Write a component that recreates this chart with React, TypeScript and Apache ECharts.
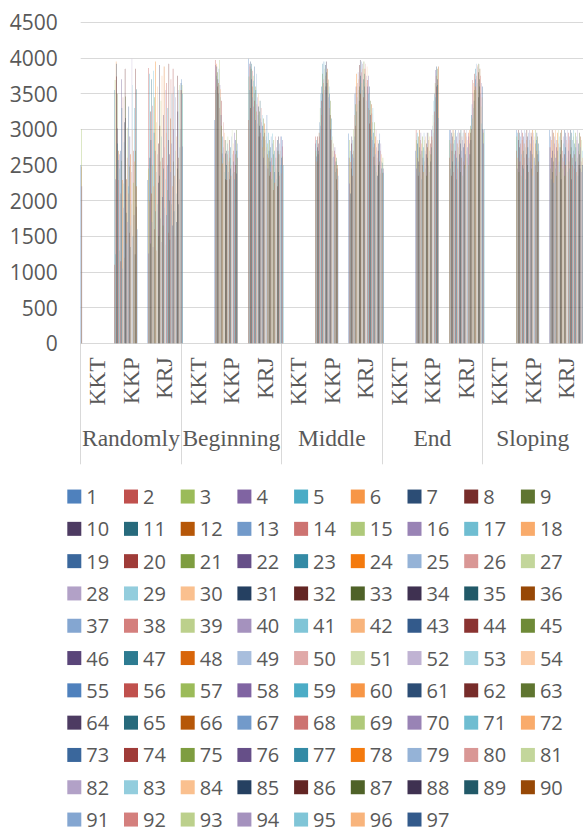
import React, { useEffect, useRef } from 'react';
import * as echarts from 'echarts';

const groups = ['Randomly', 'Beginning', 'Middle', 'End', 'Sloping'];
const subCategories = ['KKT', 'KKP', 'KRJ'];
const categories = groups.flatMap(() => subCategories);
const yMin = 0;
const yMax = 4500;
const yStep = 500;

const randomlyKKT = [2500, 2480, 3000, 2200];
const randomlyKKP = [3550, 1100, 3690, 2300, 1250, 3950, 3920, 3740, 3500, 3010, 2800,
  2700, 2570, 2290, 1300, 2650, 2450, 2100, 2700, 1150, 2560,
  3700, 3300, 2290, 1050, 3450, 2240, 1900, 2820, 1200, 3100,
  3850, 3460, 3160, 1830, 2300, 1400, 2600, 3020, 1700, 2200,
  2100, 3320, 1550, 2480, 2900, 1350, 2650, 1650, 2400, 1950,
  3990, 3620, 2990, 1500, 2700, 2250, 1800, 3300, 2550, 1250,
  3850, 2700, 1915, 3560, 2200, 1600];
const randomlyKRJ = [2290, 3860, 2450, 1260, 3780, 1990, 2600, 3250, 1400, 2850,
  3700, 2100, 1700, 3330, 2500, 1350, 3820, 2200, 2950, 1600,
  3450, 2700, 1850, 3950, 2400, 1300, 3100, 2650, 1950, 3600,
  2250, 2800, 1500, 3900, 2350, 3050, 1750, 2550, 3400, 1420,
  2900, 3750, 2050, 2600, 1650, 3200, 2450, 3880, 1900, 2750,
  1380, 3550, 2300, 2950, 1800, 3650, 2150, 2500, 3300, 1550,
  2850, 3920, 2000, 2650, 1450, 3150, 2400, 3700, 1950, 2800,
  3500, 2200, 1650, 3850, 2550, 3000, 1850, 2350, 3600, 1500,
  2700, 3450, 2100, 2900, 1700, 3750, 2450, 3250, 1950, 2600,
  3550, 2300, 3620, 2750, 3000, 3550, 3650];

const beginningKKT = [3700, 3550, 3620, 2760, 3500];
const beginningKKP = [3130, 3970, 3550, 3900, 3750, 3920, 3880, 3600, 3800, 3700,
  3500, 3650, 3850, 3300, 3970, 3620, 3450, 3560, 3200, 3400,
  3050, 2660, 2900, 2520, 2750, 3100, 2600, 2850, 2400, 2950,
  2660, 2300, 2850, 2700, 2500, 2290, 2800, 2650, 2900, 2400,
  2700, 2550, 2300, 2850, 2600, 2450, 2750, 2350, 2900, 2500,
  2990, 2650, 2380, 2800, 2550, 2700, 2400, 2950, 2300, 2650,
  2850, 2500, 2990, 2380, 2700, 2600, 2800];
const beginningKRJ = [3990, 3130, 3740, 3920, 3550, 3880, 3950, 3300, 3850, 3700,
  3920, 3600, 3450, 3820, 3750, 3320, 3680, 3500, 3880, 3400,
  3600, 3130, 3550, 3250, 3780, 3350, 3080, 3450, 3200, 3500,
  3320, 2900, 3250, 3050, 3400, 2950, 3150, 3300, 2850, 3100,
  3200, 2750, 3050, 2900, 3150, 2600, 2950, 3080, 2700, 2850,
  3000, 2500, 2900, 2750, 3200, 2650, 2800, 2450, 2950, 2600,
  2700, 2350, 2850, 2550, 2750, 2400, 2900, 2600, 2300, 2800,
  2940, 2500, 2650, 2150, 2850, 2400, 2700, 2250, 2600, 2900,
  2450, 2750, 2300, 2600, 2850, 2200, 2700, 2900, 2400, 2650,
  2800, 2350, 2700, 2900, 2500, 2380, 2600];

const middleKKT = [2900, 2760, 2620, 2850, 2500];
const middleKKP = [2800, 2900, 2700, 2620, 2850, 2550, 2750, 2900, 2650, 2800,
  2700, 2950, 3100, 2900, 3300, 3050, 3500, 3200, 3600, 3400,
  3780, 3500, 3920, 3650, 3950, 3700, 3850, 3550, 3950, 3750,
  3900, 3600, 3800, 3950, 3650, 3850, 3550, 3700, 3690, 3450,
  3600, 3300, 3500, 3200, 3400, 3000, 3150, 2850, 2990, 2700,
  2900, 2600, 2800, 2800, 2616, 2700, 2500, 2750, 2400, 2650,
  2550, 2300, 2600, 2450, 2150, 2500, 2350];
const middleKRJ = [2940, 2600, 2850, 2240, 2700, 2540, 2100, 2800, 2450, 2900,
  2650, 2350, 2850, 2700, 3000, 2600, 2900, 3200, 3500, 3050,
  3350, 3600, 3250, 3780, 3450, 3650, 3350, 3800, 3550, 3700,
  3400, 3900, 3600, 3970, 3750, 3500, 3950, 3800, 3650, 3920,
  3550, 3850, 3700, 3450, 3950, 3600, 3780, 3850, 3500, 3920,
  3650, 3750, 3400, 3880, 3600, 3690, 3300, 3750, 3500, 3270,
  3600, 3080, 3400, 3200, 3000, 3350, 2900, 3220, 3100, 2850,
  3300, 2750, 2950, 2616, 3100, 2800, 2500, 2900, 2650, 2990,
  2400, 2750, 2600, 2850, 2350, 2700, 2500, 2800, 2850, 2550,
  2940, 2700, 2380, 2800, 2550, 2650, 2450];

const endKKT = [2530, 2390, 2600, 2450, 2390];
const endKKP = [2700, 2990, 2850, 2450, 2950, 2600, 2800, 2350, 2900, 2550,
  2750, 2990, 2400, 2850, 2650, 2950, 2300, 2800, 2700, 2500,
  2900, 2600, 2750, 2400, 2950, 2550, 2850, 2700, 2450, 2900,
  2650, 2800, 2350, 2950, 2600, 2750, 2500, 2850, 2950, 2400,
  2700, 2900, 2550, 2800, 2650, 2990, 2750, 2900, 3050, 2850,
  3200, 2950, 3400, 3100, 3500, 3250, 3650, 3830, 3450, 3750,
  3880, 3600, 3850, 3700, 3620, 3880, 3160];
const endKRJ = [2990, 2600, 2850, 2990, 2450, 2800, 2950, 2350, 2700, 2900,
  2550, 2990, 2800, 2400, 2950, 2650, 2850, 2500, 2990, 2700,
  2300, 2900, 2600, 2800, 2950, 2450, 2750, 2990, 2550, 2850,
  2650, 2950, 2400, 2800, 2990, 2600, 2700, 2900, 2350, 2850,
  2950, 2550, 2750, 2990, 2500, 2800, 2650, 2950, 2450, 2900,
  2700, 2990, 2600, 2850, 2750, 2950, 2500, 2900, 2800, 2990,
  2650, 2950, 3050, 2850, 3200, 3000, 3350, 3690, 3150, 3500,
  3300, 3650, 3400, 3780, 3550, 3700, 3850, 3600, 3920, 3750,
  3550, 3880, 3650, 3900, 3450, 3800, 3920, 3700, 3600, 3850,
  3500, 3750, 3320, 3650, 3080, 3450, 3600];

const slopingKKT = [3000, 2990, 2950, 2800, 3000];
const slopingKKP = [2990, 2700, 2900, 2450, 2950, 2600, 2850, 2990, 2400, 2750,
  2950, 2550, 2900, 2800, 2350, 2990, 2650, 2850, 2500, 2950,
  2700, 2900, 2450, 2800, 2990, 2600, 2750, 2950, 2300, 2850,
  2650, 2990, 2500, 2900, 2750, 2400, 2950, 2600, 2850, 2990,
  2550, 2800, 2700, 2950, 2450, 2900, 2650, 2990, 2350, 2850,
  2750, 2950, 2550, 2900, 2600, 2800, 2990, 2500, 2850, 2700,
  2950, 2400, 2900, 2650, 2800, 2550, 2700];
const slopingKRJ = [2990, 2750, 2450, 2900, 2300, 2850, 2600, 2990, 2400, 2700,
  2550, 2950, 2250, 2800, 2650, 2900, 2450, 2990, 2600, 2750,
  2350, 2850, 2700, 2950, 2500, 2800, 2990, 2550, 2900, 2400,
  2750, 2650, 2950, 2300, 2850, 2990, 2600, 2700, 2450, 2900,
  2800, 2550, 2990, 2650, 2350, 2950, 2750, 2500, 2900, 2850,
  2600, 2990, 2400, 2800, 2700, 2950, 2550, 2900, 2450, 2850,
  2990, 2650, 2750, 2300, 2950, 2600, 2850, 2500, 2900, 2700,
  2990, 2450, 2800, 2650, 2950, 2550, 2750, 2400, 2900, 2850,
  2600, 2990, 2350, 2700, 2800, 2500, 2950, 2650, 2450, 2900,
  2750, 2550, 2850, 2400, 2700, 2600, 2500];

const categoryValues = [
  randomlyKKT, randomlyKKP, randomlyKRJ,
  beginningKKT, beginningKKP, beginningKRJ,
  middleKKT, middleKKP, middleKRJ,
  endKKT, endKKP, endKRJ,
  slopingKKT, slopingKKP, slopingKRJ,
];

const seriesNames = Array.from({ length: 97 }, (_, i) => String(i + 1));

const palette = [
  '#4F81BD', '#C0504D', '#9BBB59', '#8064A2', '#4BACC6', '#F79646',
  '#2C4D75', '#772C2A', '#5F7530', '#4D3B62', '#276A7C', '#B65708',
  '#729ACA', '#CD7371', '#AFC97A', '#9983B5', '#6FBDD1', '#F9AB6B',
  '#3A679C', '#9F3B38', '#7E9D40', '#664F88', '#338AA5', '#F47A0E',
  '#95B3D7', '#D99795', '#C3D69B', '#B2A1C7', '#93CDDD', '#FAC08F',
  '#254061', '#632523', '#4F6228', '#3F3151', '#215968', '#974806',
  '#84A6D1', '#D47F7D', '#BCD08C', '#A592BE', '#80C5D7', '#F8B47C',
  '#335A8B', '#8A3331', '#6E8A37', '#5A4579', '#2D7B91', '#D8650A',
  '#A8BEDD', '#E0A9A8', '#CFDFAF', '#C0B3D3', '#A7D6E3', '#FBCBA5',
];

const textColor = '#595959';
const gridColor = '#D9D9D9';
const sansFont = '"Open Sans", "Noto Sans", sans-serif';
const serifFont = '"Liberation Serif", "DejaVu Serif", serif';

export default function App() {
  const ref = useRef<HTMLDivElement>(null);

  useEffect(() => {
    document.body.style.margin = '0';
    if (!ref.current) return;
    const chart = echarts.init(ref.current, null, { renderer: 'svg' });
    chart.setOption({
      animation: false,
      backgroundColor: '#FFFFFF',
      grid: { left: 80.7, top: 22.3, width: 502.5, height: 321, containLabel: false },
      legend: {
        type: 'plain',
        orient: 'horizontal',
        left: 67.3,
        top: 485.4,
        width: 505,
        padding: 0,
        itemGap: 10,
        itemWidth: 14,
        itemHeight: 14,
        icon: 'rect',
        data: seriesNames,
        textStyle: {
          color: textColor,
          fontFamily: sansFont,
          fontSize: 20,
          width: 27.7,
          lineHeight: 22.3,
        },
      },
      xAxis: [
        {
          type: 'category',
          data: categories,
          position: 'bottom',
          axisLine: { show: true, lineStyle: { color: gridColor, width: 1 } },
          axisTick: { show: false },
          axisLabel: {
            interval: 0,
            rotate: 90,
            margin: 14,
            color: textColor,
            fontFamily: serifFont,
            fontSize: 23.5,
          },
          splitLine: { show: false },
        },
        {
          type: 'category',
          data: groups,
          position: 'bottom',
          axisLine: { show: false },
          axisTick: { show: true, length: 121, lineStyle: { color: gridColor, width: 1 } },
          axisLabel: {
            interval: 0,
            margin: 83,
            color: textColor,
            fontFamily: serifFont,
            fontSize: 23.5,
          },
          splitLine: { show: false },
        },
      ],
      yAxis: {
        type: 'value',
        min: yMin,
        max: yMax,
        interval: yStep,
        axisLine: { show: false },
        axisTick: { show: false },
        axisLabel: {
          color: textColor,
          fontFamily: sansFont,
          fontSize: 21,
          margin: 23,
          formatter: (v: number) => String(v),
        },
        splitLine: { show: true, lineStyle: { color: gridColor, width: 1 } },
      },
      series: seriesNames.map((name, k) => ({
        name,
        type: 'bar',
        xAxisIndex: 0,
        yAxisIndex: 0,
        barGap: '0%',
        barCategoryGap: '0%',
        barMinWidth: 0.01,
        silent: true,
        itemStyle: { color: palette[k % palette.length] },
        emphasis: { disabled: true },
        data: categoryValues.map((arr) => (k < arr.length ? arr[k] : null)),
      })),
    });
    return () => chart.dispose();
  }, []);

  return (
    <div
      ref={ref}
      style={{ position: 'absolute', left: 0, top: 0, width: 583, height: 828 }}
    />
  );
}
